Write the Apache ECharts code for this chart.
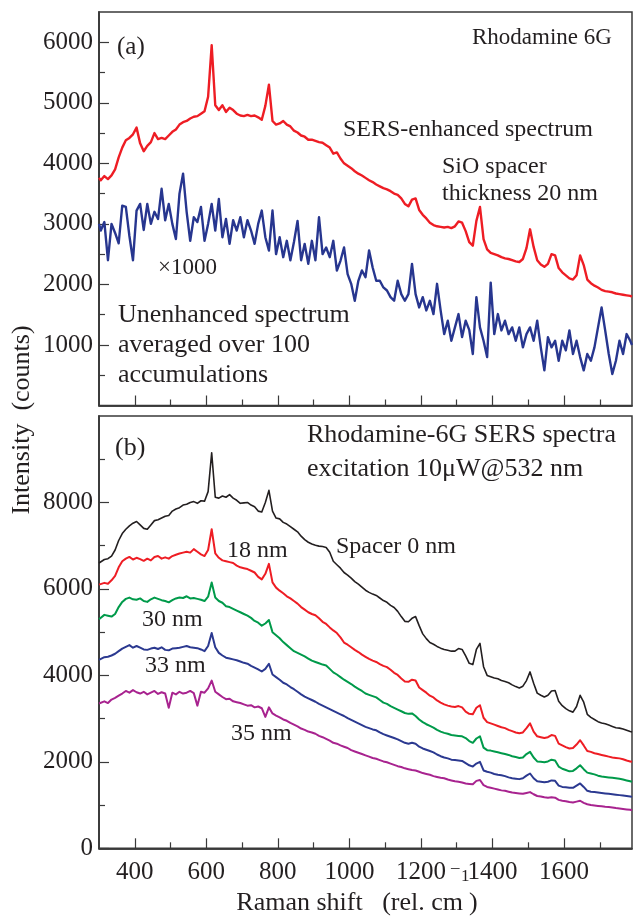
<!DOCTYPE html>
<html>
<head>
<meta charset="utf-8">
<script src="https://cdn.jsdelivr.net/npm/echarts@6/dist/echarts.min.js"></script>
<style>
html,body{margin:0;padding:0;background:#fff;}
#chart{width:633px;height:920px;}
</style>
</head>
<body>
<div id="chart"></div>
<script>
// Raman shift sample positions (rel. cm^-1)
const shift = [300,
 305,315,325,335,345,355,365,375,385,395,
 405,415,425,435,445,455,465,475,485,495,
 505,515,525,535,545,555,565,575,585,595,
 605,615,625,635,645,655,665,675,685,695,
 705,715,725,735,745,755,765,775,785,795,
 805,815,825,835,845,855,865,875,885,895,
 905,915,925,935,945,955,965,975,985,995,
 1005,1015,1025,1035,1045,1055,1065,1075,1085,1095,
 1105,1115,1125,1135,1145,1155,1165,1175,1185,1195,
 1205,1215,1225,1235,1245,1255,1265,1275,1285,1295,
 1305,1315,1325,1335,1345,1355,1365,1375,1385,1395,
 1405,1415,1425,1435,1445,1455,1465,1475,1485,1495,
 1505,1515,1525,1535,1545,1555,1565,1575,1585,1595,
 1605,1615,1625,1635,1645,1655,1665,1675,1685,1695,
 1705,1715,1725,1735,1745,1755,1765,1775,1785,
 1790];

// Panel (a): SERS-enhanced spectrum, SiO spacer 20 nm
const sersEnhanced = [3760,
 3720,3790,3740,3800,3900,4100,4260,4380,4420,4480,
 4590,4330,4200,4290,4350,4500,4400,4420,4400,4460,
 4520,4560,4640,4680,4700,4740,4770,4780,4820,4860,
 5100,5950,4960,4880,4960,4850,4920,4880,4820,4790,
 4780,4800,4780,4790,4760,4720,4950,5300,4700,4640,
 4660,4700,4640,4610,4540,4510,4460,4440,4390,4390,
 4370,4350,4340,4300,4260,4160,4180,4080,4000,3960,
 3920,3870,3830,3800,3760,3720,3690,3650,3620,3590,
 3570,3540,3500,3480,3420,3330,3290,3400,3420,3230,
 3150,3090,3020,2980,2960,2950,2940,2950,2930,2960,
 3040,3020,2880,2700,2640,3050,3280,2750,2580,2520,
 2500,2480,2450,2430,2420,2400,2380,2370,2420,2600,
 2910,2620,2400,2330,2290,2340,2500,2480,2270,2200,
 2150,2100,2080,2150,2480,2320,2080,2020,1980,1950,
 1910,1890,1880,1870,1850,1840,1830,1820,1810,
 1800];

// Panel (a): unenhanced spectrum x1000
const unenhanced = [3000,
 2890,3030,2400,3000,2850,2680,3300,3280,2800,2400,
 3220,3330,2900,3330,3000,3200,3080,3580,3060,3330,
 3000,2750,3500,3830,3200,2720,3110,3030,3280,2720,
 3000,3330,2890,3410,2780,3080,2670,3060,2890,3110,
 2780,3060,2890,2670,3000,3220,2780,2560,3220,2500,
 2780,2450,2720,2400,2700,3050,2400,2670,2340,2720,
 2400,3110,2500,2610,2450,2720,2230,2390,2610,2170,
 2010,1730,2060,2230,2120,2560,2280,2060,2060,1950,
 1900,1790,1730,2060,1840,1730,1840,2340,1840,1620,
 1790,1570,1730,1510,2010,1570,1180,1400,1070,1290,
 1510,1130,1400,1250,850,1790,1290,1070,800,2030,
 1180,1510,1240,1400,1180,1290,1070,1290,960,1180,
 1290,1070,1400,960,580,1130,960,1070,740,1070,
 910,1240,850,1070,800,580,850,740,960,1290,
 1620,1240,850,520,740,1070,850,1180,1070,
 1000];

// Panel (b): spacer 0 nm
const spacer0 = [6600,
 6580,6680,6700,6760,6900,7120,7280,7380,7460,7520,
 7560,7480,7400,7380,7480,7580,7600,7640,7680,7700,
 7800,7850,7880,7940,7960,8000,8020,7980,8040,8030,
 8250,9150,8120,8100,8150,8120,8180,8100,8050,7980,
 7990,8000,7940,7900,7800,7780,8000,8280,7800,7640,
 7620,7540,7500,7440,7380,7320,7220,7140,7080,7040,
 7010,6990,6980,6960,6850,6640,6560,6480,6380,6320,
 6250,6170,6110,6040,5970,5920,5880,5850,5790,5730,
 5690,5620,5570,5480,5360,5250,5240,5320,5360,5150,
 4960,4850,4760,4720,4670,4630,4600,4580,4560,4560,
 4620,4600,4450,4280,4250,4600,4740,4200,4000,3970,
 3940,3920,3880,3860,3830,3780,3740,3710,3750,3880,
 4080,3820,3590,3540,3500,3540,3640,3650,3400,3300,
 3230,3180,3150,3280,3540,3380,3100,3030,2980,2930,
 2900,2880,2850,2820,2790,2780,2760,2730,2700,
 2690];

// Panel (b): spacer 18 nm
const spacer18 = [6100,
 6080,6140,6120,6200,6300,6500,6640,6700,6740,6680,
 6720,6690,6650,6700,6660,6740,6760,6700,6730,6700,
 6760,6790,6820,6840,6860,6840,6920,6860,6800,6760,
 6900,7380,6820,6720,6660,6640,6620,6600,6540,6500,
 6480,6460,6420,6380,6280,6220,6350,6580,6150,6030,
 5960,5900,5830,5780,5720,5660,5580,5520,5460,5420,
 5390,5320,5240,5190,5110,5040,4980,4880,4760,4710,
 4650,4590,4540,4480,4430,4380,4340,4310,4260,4220,
 4190,4130,4060,4010,3930,3860,3850,3900,3880,3720,
 3660,3600,3530,3490,3420,3370,3330,3300,3280,3270,
 3290,3260,3160,3110,3100,3250,3310,3020,2920,2890,
 2860,2830,2800,2780,2740,2710,2680,2660,2680,2780,
 2890,2700,2590,2570,2550,2570,2620,2600,2420,2380,
 2340,2310,2320,2400,2500,2380,2250,2230,2200,2180,
 2160,2140,2120,2100,2090,2080,2060,2030,2010,
 2000];

// Panel (b): spacer 30 nm
const spacer30 = [5300,
 5320,5400,5380,5360,5420,5580,5700,5770,5800,5760,
 5750,5780,5720,5700,5760,5800,5770,5740,5720,5690,
 5740,5780,5800,5790,5830,5780,5790,5770,5750,5720,
 5820,6150,5800,5720,5680,5600,5580,5540,5500,5460,
 5420,5380,5330,5260,5220,5150,5200,5280,5000,4930,
 4860,4770,4700,4630,4560,4520,4480,4440,4390,4340,
 4310,4280,4250,4230,4150,4070,4020,3960,3900,3850,
 3800,3740,3690,3640,3580,3550,3520,3490,3430,3370,
 3340,3290,3250,3210,3170,3130,3110,3120,3060,2980,
 2920,2870,2830,2790,2740,2700,2670,2650,2620,2610,
 2600,2590,2550,2480,2440,2540,2590,2330,2270,2260,
 2240,2220,2200,2180,2160,2130,2110,2090,2100,2180,
 2230,2100,2010,2000,1990,2010,2050,2030,1890,1840,
 1810,1780,1790,1850,1920,1830,1750,1730,1710,1680,
 1660,1650,1640,1630,1620,1610,1590,1570,1550,
 1540];

// Panel (b): spacer 33 nm
const spacer33 = [4360,
 4340,4420,4430,4460,4500,4560,4620,4660,4700,4640,
 4680,4640,4600,4590,4620,4640,4610,4650,4590,4580,
 4620,4630,4640,4660,4680,4650,4640,4630,4600,4560,
 4680,4980,4650,4520,4460,4410,4390,4370,4350,4320,
 4290,4270,4220,4180,4140,4090,4150,4270,4020,3960,
 3900,3830,3790,3730,3680,3620,3560,3510,3470,3430,
 3390,3340,3300,3260,3220,3180,3140,3100,3060,3010,
 2970,2930,2890,2850,2810,2780,2750,2730,2680,2640,
 2610,2580,2550,2520,2480,2440,2420,2440,2420,2350,
 2310,2280,2250,2220,2170,2130,2100,2080,2050,2040,
 2030,2020,1970,1920,1890,1960,2000,1800,1770,1750,
 1720,1700,1690,1670,1640,1620,1610,1600,1620,1680,
 1730,1620,1550,1540,1530,1540,1570,1560,1450,1420,
 1410,1400,1400,1450,1500,1420,1330,1310,1300,1290,
 1280,1270,1260,1250,1240,1230,1220,1210,1200,
 1190];

// Panel (b): spacer 35 nm
const spacer35 = [3350,
 3320,3400,3360,3440,3480,3530,3580,3640,3600,3660,
 3610,3580,3620,3560,3600,3640,3570,3610,3580,3250,
 3600,3560,3620,3580,3600,3640,3590,3300,3620,3600,
 3700,3880,3620,3560,3500,3450,3460,3400,3380,3360,
 3330,3300,3310,3260,3280,3240,3040,3260,3120,3070,
 3030,2980,2950,2900,2860,2820,2770,2740,2700,2680,
 2650,2600,2570,2530,2490,2440,2420,2380,2350,2320,
 2270,2240,2210,2180,2150,2120,2090,2070,2040,2010,
 1990,1960,1930,1900,1880,1850,1830,1810,1800,1770,
 1740,1720,1700,1670,1650,1630,1620,1590,1570,1550,
 1540,1520,1500,1490,1480,1560,1580,1460,1420,1400,
 1380,1360,1340,1330,1310,1290,1280,1270,1260,1280,
 1300,1250,1210,1200,1180,1170,1180,1170,1120,1100,
 1090,1070,1060,1080,1100,1050,1020,1000,990,980,
 970,960,955,945,930,920,910,900,890,
 880];

const xMajorTicks = [400,600,800,1000,1200,1400,1600];
const xMinorTicks = [500,700,900,1100,1300,1500,1700];
const yTopMajor = [1000,2000,3000,4000,5000,6000];
const yTopMinor = [500,1500,2500,3500,4500,5500];
const yBotMajor = [0,2000,4000,6000,8000];
const yBotMinor = [1000,3000,5000,7000,9000];

const FONT = '"Liberation Serif","Times New Roman",serif';
const TXT = '#231f20';
const AX = '#3a3a3a';

function pairs(arr){ const n=Math.min(arr.length, shift.length); const out=[]; for(let i=0;i<n;i++) out.push([shift[i], arr[i]]); return out; }
const plain = v => String(Math.round(v));

const chart = echarts.init(document.getElementById('chart'), null, {renderer:'canvas'});

function xAx(grid, major, showLabels){
  return {
    type:'value', gridIndex:grid, min:300, max:1790, position:'bottom', offset:0,
    axisLine:{show:true, lineStyle:{color:AX, width:1.5}},
    axisTick:{show:true, inside:true, length: major?10:6, customValues: major?xMajorTicks:xMinorTicks, lineStyle:{color:AX, width:1.2}},
    axisLabel:{show:showLabels, customValues:xMajorTicks, formatter:plain, margin:12, fontFamily:FONT, fontSize:25, color:TXT},
    splitLine:{show:false}
  };
}
function yAx(grid, max, majorVals, minorVals, major, showLabels){
  return {
    type:'value', gridIndex:grid, min:0, max:max, position:'left', offset:0,
    axisLine:{show:true, lineStyle:{color:AX, width:1.5}},
    axisTick:{show:true, inside:true, length: major?10:6, customValues: major?majorVals:minorVals, lineStyle:{color:AX, width:1.2}},
    axisLabel:{show:showLabels, customValues:majorVals, formatter:plain, margin:6, fontFamily:FONT, fontSize:25, color:TXT},
    splitLine:{show:false}
  };
}

function line(data, color, xi, yi, w){
  return {type:'line', data:pairs(data), xAxisIndex:xi, yAxisIndex:yi, showSymbol:false, symbol:'none',
    lineStyle:{color:color, width:w, join:'round'}, itemStyle:{color:color}, animation:false, silent:true, z:3};
}

function txt(x, y, text, size, align){
  return {type:'text', x:x, y:y, z:10, style:{text:text, font: size+'px '+FONT, fill:TXT, align: align||'left', verticalAlign:'middle'}};
}

const option = {
  animation:false,
  backgroundColor:'#fff',
  grid:[
    {left:99, right:1, top:12, height:393.5, show:true, borderColor:AX, borderWidth:1.5, backgroundColor:'transparent'},
    {left:99, right:1, top:416, height:432.3, show:true, borderColor:AX, borderWidth:1.5, backgroundColor:'transparent'}
  ],
  xAxis:[ xAx(0,true,false), xAx(0,false,false), xAx(1,true,true), xAx(1,false,false) ],
  yAxis:[ yAx(0,6500,yTopMajor,yTopMinor,true,true), yAx(0,6500,yTopMajor,yTopMinor,false,false),
          yAx(1,10000,yBotMajor,yBotMinor,true,true), yAx(1,10000,yBotMajor,yBotMinor,false,false) ],
  series:[
    line(unenhanced, '#27368f', 0, 0, 2.4),
    line(sersEnhanced, '#ee1d24', 0, 0, 2.4),
    line(spacer35, '#a8238f', 2, 2, 2),
    line(spacer33, '#2b3990', 2, 2, 2),
    line(spacer30, '#009a4a', 2, 2, 2),
    line(spacer18, '#ee1d24', 2, 2, 2),
    line(spacer0, '#231f20', 2, 2, 1.6)
  ],
  graphic:[
    txt(117, 47, '(a)', 25),
    txt(472, 38, 'Rhodamine 6G', 23),
    txt(343, 130, 'SERS-enhanced spectrum', 24),
    txt(442, 167, 'SiO spacer', 24),
    txt(442, 194, 'thickness 20 nm', 24),
    txt(158, 268, '×1000', 23),
    txt(118, 315, 'Unenhanced spectrum', 26),
    txt(118, 345, 'averaged over 100', 26),
    txt(118, 375, 'accumulations', 26),
    txt(115, 448, '(b)', 26),
    txt(307, 435, 'Rhodamine-6G SERS spectra', 26),
    txt(307, 469, 'excitation 10μW@532 nm', 26),
    txt(336, 547, 'Spacer 0 nm', 24),
    txt(227, 551, '18 nm', 24),
    txt(142, 620, '30 nm', 24),
    txt(145, 666, '33 nm', 24),
    txt(231, 734, '35 nm', 24),
    txt(463, 903, 'Raman shift   (rel. cm', 26, 'right'),
    txt(451, 868, '–', 17),
    txt(461, 877, '1', 17),
    txt(469, 903, ')', 26),
    {type:'text', x:22, y:420, rotation:Math.PI/2, z:10,
      style:{text:'Intensity  (counts)', font:'26px '+FONT, fill:TXT, align:'center', verticalAlign:'middle'}}
  ]
};
chart.setOption(option);
</script>
</body>
</html>
